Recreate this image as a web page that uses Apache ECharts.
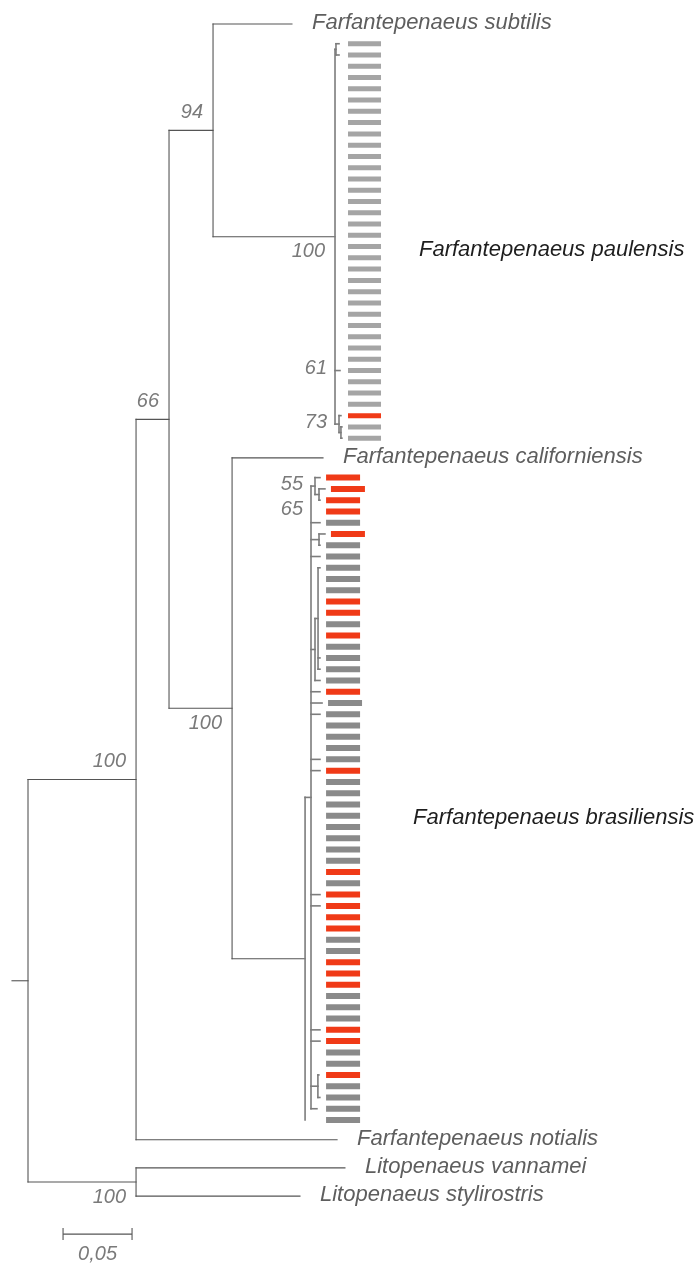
<!DOCTYPE html>
<html>
<head>
<meta charset="utf-8">
<script src="https://cdn.jsdelivr.net/npm/echarts@6/dist/echarts.min.js"></script>
<style>
  html, body { margin: 0; padding: 0; background: #ffffff; }
  #chart { width: 695px; height: 1263px; }
</style>
</head>
<body>
<div id="chart"></div>
<script>
// ---------------------------------------------------------------
// Tree data. Branch lengths in substitutions per site, internal
// node labels are bootstrap support values.
// PAULENSIS / BRASILIENSIS are filled in with the haplotype clades.
// ---------------------------------------------------------------
const backboneNewick =
  "((((Farfantepenaeus_subtilis:0.0572,PAULENSIS:0.0884)94:0.0319," +
  "(Farfantepenaeus_californiensis:0.0659,BRASILIENSIS:0.0529)100:0.0457)66:0.0239," +
  "Farfantepenaeus_notialis:0.1457)100:0.0783," +
  "(Litopenaeus_vannamei:0.1514,Litopenaeus_stylirostris:0.1188)100:0.0783):0.0116";

const paulensisNewick =
  "((p01:0.0022,p02:0.0022):0.0007,p03:0,p04:0,p05:0,p06:0,p07:0,p08:0,p09:0,p10:0," +
  "p11:0,p12:0,p13:0,p14:0,p15:0,p16:0,p17:0,p18:0,p19:0,p20:0,p21:0,p22:0,p23:0," +
  "p24:0,p25:0,p26:0,p27:0,p28:0,p29:0,(p30:0)61:0.0036,p31:0,p32:0,p33:0," +
  "(p34:0.0014,(p35:0.0007,p36:0.0007):0.0014)73:0.0029)100";

const brasiliensisNewick =
  "(((b01:0.0036,(b02:0.0043,b03:0.0007)65:0.0029)55:0.0029,b04:0,b05:0.0065," +
  "(b06:0.0043,b07:0.0007):0.0058,b08:0.0065," +
  "((b09:0.0014,b10:0,b11:0,b12:0,b13:0,b14:0,b15:0,b16:0,b17:0.0014,b18:0.0014):0.0022,b19:0.0036):0.0029," +
  "b20:0.0065,b21:0.0080,b22:0.0065,b23:0,b24:0,b25:0,b26:0.0065,b27:0.0065," +
  "b28:0,b29:0,b30:0,b31:0,b32:0,b33:0,b34:0,b35:0,b36:0,b37:0,b38:0.0065,b39:0.0065," +
  "b40:0,b41:0,b42:0,b43:0,b44:0,b45:0,b46:0,b47:0,b48:0,b49:0,b50:0.0065,b51:0.0065," +
  "b52:0,b53:0,(b54:0.0007,b55:0,b56:0.0014):0.0050,b57:0.0043):0.0043,b58:0)";

// Haplotypes drawn in red
const redHaplotypes = ["p34", "b01", "b02", "b03", "b04", "b06", "b12", "b13", "b15",
  "b20", "b27", "b36", "b38", "b39", "b40", "b41", "b44", "b45", "b46", "b50", "b51", "b54"];

// Names of the two haplotype clades
const cladePlaceholders = ["PAULENSIS", "BRASILIENSIS"];
const cladeNames = ["Farfantepenaeus paulensis", "Farfantepenaeus brasiliensis"];

// Scale bar
const scaleBarLength = 0.05;
const scaleBarText = "0,05";

// ---------------------------------------------------------------
// Layout / style constants
// ---------------------------------------------------------------
const GRID = { left: 12, top: 24, width: 683 };
const X_MAX = 0.495;
const ROW_PX = 11.27;          // vertical spacing between haplotype rows
const SPECIES_PAD = 0.75;      // extra rows around named species tips
const SCALE_BAR_START = 0.037; // x position of the scale bar
const FONT = '"Liberation Sans", Arial, Helvetica, sans-serif';

const lineStyles = [
  { color: '#555555', width: 1.1 },   // backbone
  { color: '#7c7c7c', width: 1.6 }    // inside haplotype clades
];
const barStyle = [
  { column: 13, gap: 6, width: 33, height: 5, gray: '#a5a5a5', label: [71, 9] },
  { column: 21, gap: 6, width: 34, height: 6, gray: '#8a8a8a', label: [87, 19] }
];
const RED = '#f03a17';

// ---------------------------------------------------------------
// Newick parsing
// ---------------------------------------------------------------
function parseNewick(s) {
  let i = 0;
  function token() {
    let t = '';
    while (i < s.length && '(),:;'.indexOf(s[i]) < 0) t += s[i++];
    return t.trim();
  }
  function node() {
    const n = { children: [], name: '', len: 0, support: null };
    if (s[i] === '(') {
      i++;
      n.children.push(node());
      while (s[i] === ',') { i++; n.children.push(node()); }
      i++; // closing bracket
      const lab = token();
      if (lab) n.support = Number(lab);
    } else {
      n.name = token();
    }
    if (s[i] === ':') { i++; n.len = parseFloat(token()); }
    return n;
  }
  return node();
}

const root = parseNewick(backboneNewick);
const cladeTrees = [parseNewick(paulensisNewick), parseNewick(brasiliensisNewick)];

function tagClade(n, idx, cladeRoot) {
  n.clade = idx; n.cladeRoot = cladeRoot;
  n.children.forEach(c => tagClade(c, idx, cladeRoot));
}
(function splice(n) {
  n.children.forEach((c, k) => {
    const idx = cladePlaceholders.indexOf(c.name);
    if (idx >= 0) {
      const sub = cladeTrees[idx];
      sub.len = c.len;
      tagClade(sub, idx, sub);
      n.children[k] = sub;
    } else splice(c);
  });
})(root);

// ---------------------------------------------------------------
// Layout: x = cumulative branch length, y = row of leaf order
// ---------------------------------------------------------------
const leaves = [];
(function walk(n, parent) {
  n.parent = parent;
  n.x = (parent ? parent.x : 0) + n.len;
  n.children.forEach(c => walk(c, n));
  if (!n.children.length) leaves.push(n);
})(root, null);

let row = 0;
leaves.forEach((l, k) => {
  l.isSpecies = l.clade === undefined;
  if (k > 0) {
    const prev = leaves[k - 1];
    row += 1 + (prev.isSpecies ? SPECIES_PAD : 0) + (l.isSpecies ? SPECIES_PAD : 0);
  }
  l.row = row;
});
const totalRows = row;

(function setRows(n) {
  if (!n.children.length) return;
  n.children.forEach(setRows);
  n.row = (n.children[0].row + n.children[n.children.length - 1].row) / 2;
})(root);

const pxPerUnit = GRID.width / X_MAX;

// Branch segments
const segments = [];
segments.push([0, root.row, root.x, root.row, 0]);
(function collect(n) {
  if (n.parent) {
    const cls = (n.clade !== undefined && n !== n.cladeRoot) ? 1 : 0;
    segments.push([n.parent.x, n.row, n.x, n.row, cls]);
  }
  if (n.children.length) {
    const cls = n.clade !== undefined ? 1 : 0;
    segments.push([n.x, n.children[0].row, n.x, n.children[n.children.length - 1].row, cls]);
    n.children.forEach(collect);
  }
})(root);

// Haplotype tips and species tips
const haplotypes = leaves.filter(l => !l.isSpecies);
const species = leaves.filter(l => l.isSpecies);

// Support labels with placement
const supportNodes = [];
(function collectSupport(n) {
  if (n.support !== null && n.parent) supportNodes.push(n);
  n.children.forEach(collectSupport);
})(root);
let lastLeft = null;
const supportPlace = supportNodes.map(n => {
  const branchPx = n.len * pxPerUnit;
  const sib = n.parent.children;
  if (branchPx >= 15) {
    return { mode: sib[0] === n ? 'above' : 'below' };
  }
  const y = n.row * ROW_PX - 2;
  if (lastLeft && Math.abs(y - lastLeft.y) < 20) {
    const p = { mode: 'leftBelow', ref: lastLeft.node };
    lastLeft = { y: n.row * ROW_PX + 15, node: lastLeft.node };
    return p;
  }
  lastLeft = { y: y, node: n };
  return { mode: 'left', ref: n };
});

// ---------------------------------------------------------------
// Chart
// ---------------------------------------------------------------
const chart = echarts.init(document.getElementById('chart'), null, { renderer: 'canvas' });

const option = {
  animation: false,
  backgroundColor: '#ffffff',
  grid: { left: GRID.left, top: GRID.top, width: GRID.width, height: totalRows * ROW_PX },
  xAxis: { type: 'value', min: 0, max: X_MAX, show: false },
  yAxis: { type: 'value', min: 0, max: totalRows, inverse: true, show: false },
  series: [
    {
      name: 'branches',
      type: 'custom',
      coordinateSystem: 'cartesian2d',
      silent: true,
      encode: { x: [0, 2], y: [1, 3] },
      data: segments,
      renderItem(params, api) {
        const a = api.coord([api.value(0), api.value(1)]);
        const b = api.coord([api.value(2), api.value(3)]);
        const st = lineStyles[api.value(4)];
        return {
          type: 'line',
          shape: { x1: a[0], y1: a[1], x2: b[0], y2: b[1] },
          style: { stroke: st.color, lineWidth: st.width, lineCap: 'square' }
        };
      }
    },
    {
      name: 'haplotypes',
      type: 'custom',
      coordinateSystem: 'cartesian2d',
      silent: true,
      encode: { x: 0, y: 1 },
      data: haplotypes.map(h => [h.x, h.row]),
      renderItem(params, api) {
        const h = haplotypes[params.dataIndex];
        const bs = barStyle[h.clade];
        const p = api.coord([h.x, h.row]);
        const col = api.coord([h.cladeRoot.x, 0])[0] + bs.column;
        const x = Math.max(col, p[0] + bs.gap);
        const red = redHaplotypes.indexOf(h.name) >= 0;
        return {
          type: 'rect',
          shape: { x: x, y: p[1] - bs.height / 2, width: bs.width, height: bs.height },
          style: { fill: red ? RED : bs.gray }
        };
      }
    },
    {
      name: 'species',
      type: 'custom',
      coordinateSystem: 'cartesian2d',
      silent: true,
      encode: { x: 0, y: 1 },
      data: species.map(s => [s.x, s.row]),
      renderItem(params, api) {
        const s = species[params.dataIndex];
        const p = api.coord([s.x, s.row]);
        return {
          type: 'text',
          style: {
            text: s.name.replace(/_/g, ' '),
            x: p[0] + 20, y: p[1] - 1,
            textAlign: 'left', textVerticalAlign: 'middle',
            font: 'italic 22px ' + FONT, fill: '#5e5e5e'
          }
        };
      }
    },
    {
      name: 'clades',
      type: 'custom',
      coordinateSystem: 'cartesian2d',
      silent: true,
      encode: { x: 0, y: 1 },
      data: cladeTrees.map(c => [c.x, c.row]),
      renderItem(params, api) {
        const idx = params.dataIndex;
        const tips = haplotypes.filter(h => h.clade === idx);
        const mid = (tips[0].row + tips[tips.length - 1].row) / 2;
        const bs = barStyle[idx];
        const p = api.coord([cladeTrees[idx].x, mid]);
        return {
          type: 'text',
          style: {
            text: cladeNames[idx],
            x: p[0] + bs.column + bs.label[0], y: p[1] + bs.label[1],
            textAlign: 'left', textVerticalAlign: 'middle',
            font: 'italic 22px ' + FONT, fill: '#1e1e1e'
          }
        };
      }
    },
    {
      name: 'support',
      type: 'custom',
      coordinateSystem: 'cartesian2d',
      silent: true,
      encode: { x: 0, y: 1 },
      data: supportNodes.map(n => [n.x, n.row]),
      renderItem(params, api) {
        const n = supportNodes[params.dataIndex];
        const pl = supportPlace[params.dataIndex];
        const p = api.coord([n.x, n.row]);
        let x, y;
        if (pl.mode === 'above') { x = p[0] - 10; y = p[1] - 18; }
        else if (pl.mode === 'below') { x = p[0] - 10; y = p[1] + 15; }
        else {
          x = api.coord([pl.ref.parent.x, 0])[0] - 8;
          y = pl.mode === 'left' ? p[1] - 2 : p[1] + 15;
        }
        return {
          type: 'text',
          style: {
            text: String(n.support), x: x, y: y,
            textAlign: 'right', textVerticalAlign: 'middle',
            font: 'italic 20px ' + FONT, fill: '#7a7a7a'
          }
        };
      }
    },
    {
      name: 'scale',
      type: 'custom',
      coordinateSystem: 'cartesian2d',
      silent: true,
      encode: { x: [0, 1], y: 2 },
      data: [[SCALE_BAR_START, SCALE_BAR_START + scaleBarLength, totalRows]],
      renderItem(params, api) {
        const a = api.coord([api.value(0), api.value(2)]);
        const b = api.coord([api.value(1), api.value(2)]);
        const y = a[1] + 38;
        const st = { stroke: '#555555', lineWidth: 1.1 };
        return {
          type: 'group',
          children: [
            { type: 'line', shape: { x1: a[0], y1: y, x2: b[0], y2: y }, style: st },
            { type: 'line', shape: { x1: a[0], y1: y - 6, x2: a[0], y2: y + 6 }, style: st },
            { type: 'line', shape: { x1: b[0], y1: y - 6, x2: b[0], y2: y + 6 }, style: st },
            {
              type: 'text',
              style: {
                text: scaleBarText, x: (a[0] + b[0]) / 2, y: y + 20,
                textAlign: 'center', textVerticalAlign: 'middle',
                font: 'italic 20px ' + FONT, fill: '#7a7a7a'
              }
            }
          ]
        };
      }
    }
  ]
};

chart.setOption(option);
</script>
</body>
</html>
